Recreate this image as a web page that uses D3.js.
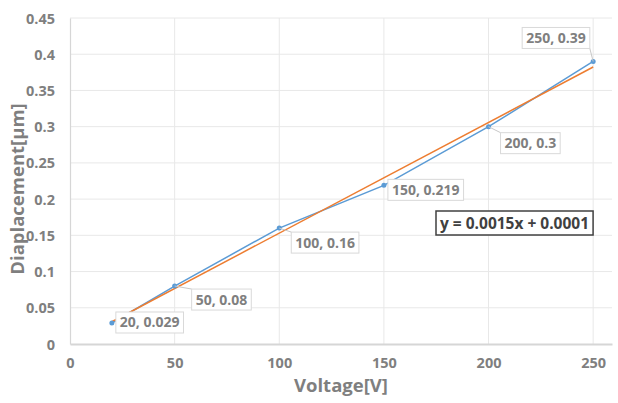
<!DOCTYPE html>
<html>
<head>
<meta charset="utf-8">
<script src="https://cdn.jsdelivr.net/npm/d3@7"></script>
<style>
  body { margin: 0; background: #fff; }
  text { font-family: "Open Sans", sans-serif; font-weight: bold; }
</style>
</head>
<body>
<div id="chart"></div>
<script>
// data
var voltage = [20, 50, 100, 150, 200, 250]
var displacement = [0.029, 0.08, 0.16, 0.219, 0.3, 0.39]
var xTicks = [0, 50, 100, 150, 200, 250]
var yTicks = [0, 0.05, 0.1, 0.15, 0.2, 0.25, 0.3, 0.35, 0.4, 0.45]
var equationText = "y = 0.0015x + 0.0001"

// label box offsets from the point (layout only)
var labelOffsets = [[4, -11], [17, 3], [12, 4], [4, -6], [12, 6], [-71, -34]]

var W = 618, H = 403
var pLeft = 70, pRight = 612, pTop = 18, pBottom = 344
var grey = "#7f7f7f"

var svg = d3.select("#chart").append("svg")
    .attr("width", W)
    .attr("height", H)

var x = d3.scaleLinear().domain([0, 259]).range([pLeft, pRight])
var y = d3.scaleLinear().domain([0, 0.45]).range([pBottom, pTop])

// gridlines
svg.append("g").selectAll("line.hgrid")
    .data(yTicks.slice(1)).enter()
    .append("line")
    .attr("x1", pLeft).attr("x2", pRight)
    .attr("y1", function(d){ return y(d) }).attr("y2", function(d){ return y(d) })
    .attr("stroke", "#e8e8e8").attr("stroke-width", 1)
svg.append("g").selectAll("line.vgrid")
    .data(xTicks.slice(1)).enter()
    .append("line")
    .attr("y1", pTop).attr("y2", pBottom)
    .attr("x1", function(d){ return x(d) }).attr("x2", function(d){ return x(d) })
    .attr("stroke", "#e8e8e8").attr("stroke-width", 1)

// axes
var yAxis = svg.append("g")
    .attr("transform", "translate(" + pLeft + ",0)")
    .call(d3.axisLeft(y).tickValues(yTicks).tickSize(0).tickPadding(15).tickFormat(function(d){ return String(+d.toFixed(2)) }))
yAxis.select(".domain").attr("stroke", "#d6d6d6").attr("stroke-width", 1.2)
yAxis.selectAll("text").attr("fill", grey).style("font-size", "14.5px").attr("dy", "0.35em")

var xAxis = svg.append("g")
    .attr("transform", "translate(0," + pBottom + ")")
    .call(d3.axisBottom(x).tickValues(xTicks).tickSize(0).tickPadding(14))
xAxis.select(".domain").attr("stroke", "#d6d6d6").attr("stroke-width", 2)
xAxis.selectAll("text").attr("fill", grey).style("font-size", "14.5px")

// axis titles
svg.append("text")
    .text("Voltage[V]")
    .attr("x", (pLeft + pRight) / 2)
    .attr("y", 392)
    .attr("text-anchor", "middle")
    .attr("fill", grey)
    .style("font-size", "18.5px")
svg.append("text")
    .text("Diaplacement[μm]")
    .attr("transform", "translate(24,189) rotate(-90)")
    .attr("text-anchor", "middle")
    .attr("fill", grey)
    .style("font-size", "18.5px")

var pts = voltage.map(function(v, i){ return [v, displacement[i]] })

// series line
svg.append("path")
    .datum(pts)
    .attr("fill", "none")
    .attr("stroke", "#5b9bd5")
    .attr("stroke-width", 1.5)
    .attr("d", d3.line().x(function(d){ return x(d[0]) }).y(function(d){ return y(d[1]) }))

// linear trendline (least squares)
var mx = d3.mean(voltage), my = d3.mean(displacement)
var sxy = d3.sum(pts, function(d){ return (d[0]-mx)*(d[1]-my) })
var sxx = d3.sum(voltage, function(v){ return (v-mx)*(v-mx) })
var slope = sxy / sxx, intercept = my - slope * mx
var xExt = d3.extent(voltage)
svg.append("line")
    .attr("x1", x(xExt[0])).attr("y1", y(slope*xExt[0] + intercept))
    .attr("x2", x(xExt[1])).attr("y2", y(slope*xExt[1] + intercept))
    .attr("stroke", "#ed7d31")
    .attr("stroke-width", 1.5)

// markers
svg.append("g").selectAll("circle")
    .data(pts).enter()
    .append("circle")
    .attr("cx", function(d){ return x(d[0]) })
    .attr("cy", function(d){ return y(d[1]) })
    .attr("r", 2.5)
    .attr("fill", "#5b9bd5")

// data labels
var labels = svg.append("g")
pts.forEach(function(d, i){
    var px = x(d[0]), py = y(d[1])
    var bx = px + labelOffsets[i][0], by = py + labelOffsets[i][1]
    var g = labels.append("g")
    var t = g.append("text")
        .text(d[0] + ", " + d[1])
        .attr("x", bx + 4)
        .attr("y", by + 15.5)
        .attr("fill", grey)
        .style("font-size", "14px")
    var bw = t.node().getComputedTextLength() + 8, bh = 21
    // leader line to nearest box edge
    var nx = Math.max(bx, Math.min(px, bx + bw)), ny = Math.max(by, Math.min(py, by + bh))
    if (Math.hypot(nx - px, ny - py) > 6) {
        g.insert("line", "text")
            .attr("x1", px).attr("y1", py).attr("x2", nx).attr("y2", ny)
            .attr("stroke", "#c8c8c8").attr("stroke-width", 1)
    }
    g.insert("rect", "text")
        .attr("x", bx).attr("y", by)
        .attr("width", bw).attr("height", bh)
        .attr("fill", "white")
        .attr("stroke", "#d9d9d9")
        .attr("stroke-width", 1)
})

// equation
var eq = svg.append("g")
var et = eq.append("text")
    .text(equationText)
    .attr("x", 440)
    .attr("y", 228.5)
    .attr("fill", "#404040")
    .style("font-size", "15.5px")
var ew = et.node().getComputedTextLength()
eq.insert("rect", "text")
    .attr("x", 436).attr("y", 211)
    .attr("width", ew + 8).attr("height", 24)
    .attr("fill", "white")
    .attr("stroke", "#404040")
    .attr("stroke-width", 1.5)
</script>
</body>
</html>
